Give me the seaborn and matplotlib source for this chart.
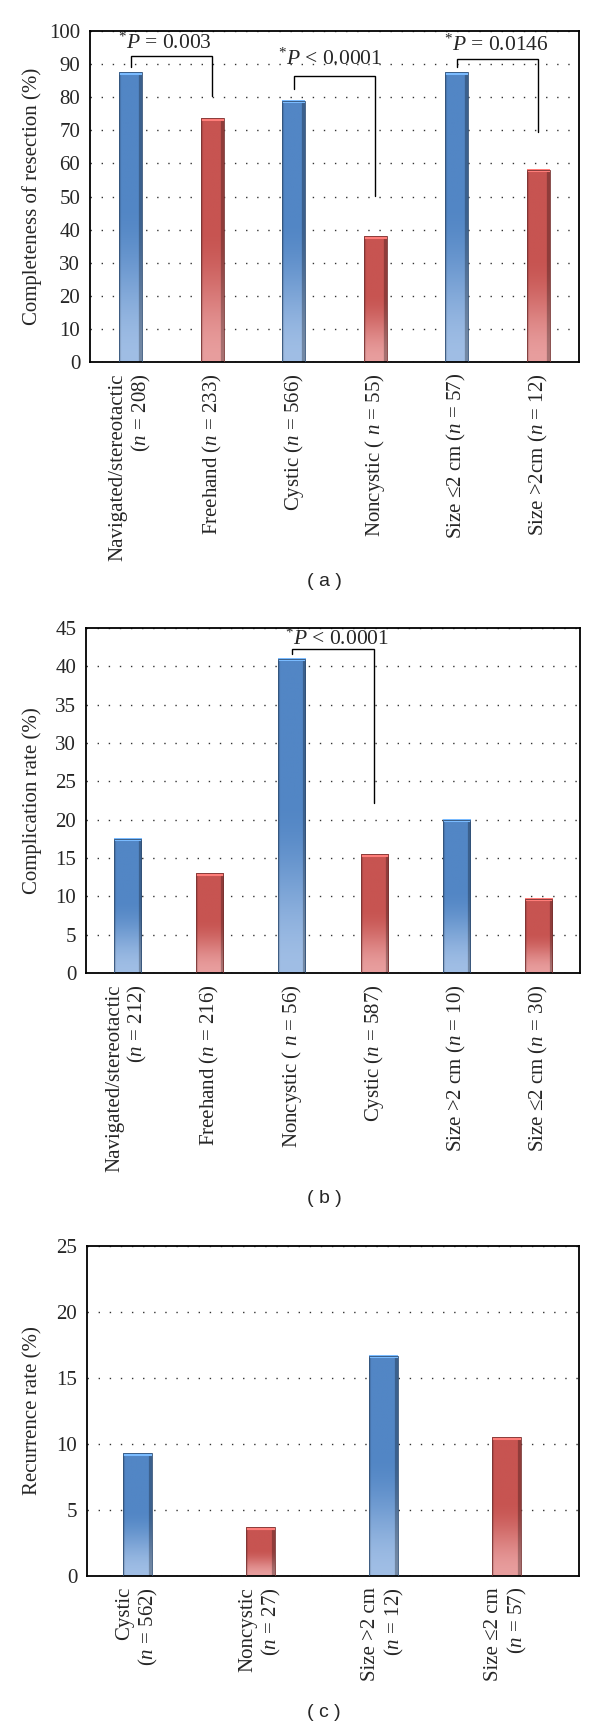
import numpy as np
import matplotlib
matplotlib.use("Agg")
import matplotlib.pyplot as plt
import seaborn as sns

# ---- data ----
a_labels = ["Navigated/stereotactic\n($n$ = 208)", "Freehand ($n$ = 233)", "Cystic ($n$ = 566)",
            "Noncystic ( $n$ = 55)", "Size \u22642 cm ($n$ = 57)", "Size >2cm ($n$ = 12)"]
a_values = [87.5, 73.6, 78.9, 38.0, 87.6, 58.1]

b_labels = ["Navigated/stereotactic\n($n$ = 212)", "Freehand ($n$ = 216)", "Noncystic ( $n$ = 56)",
            "Cystic ($n$ = 587)", "Size >2 cm ($n$ = 10)", "Size \u22642 cm ($n$ = 30)"]
b_values = [17.5, 13.0, 41.0, 15.5, 20.0, 9.7]

c_labels = ["Cystic\n($n$ = 562)", "Noncystic\n($n$ = 27)", "Size >2 cm\n($n$ = 12)", "Size \u22642 cm\n($n$ = 57)"]
c_values = [9.3, 3.7, 16.7, 10.5]

# significance brackets: (left bar, right bar, left leg start, bar top, right leg end, text)
a_brackets = [(0, 1, 89.0, 92.3, 80.4, r"$^{*}P$ = 0.003"),
              (2, 3, 82.4, 86.3, 50.3, r"$^{*}P$ < 0.0001"),
              (4, 5, 89.0, 91.5, 69.6, r"$^{*}P$ = 0.0146")]
a_text_pos = [(0.42, 96.3), (2.44, 91.5), (4.48, 95.8)]
b_brackets = [(2, 3, 41.6, 42.2, 22.2, r"$^{*}P$ < 0.0001")]
b_text_pos = [(2.55, 43.6)]

BLUE = np.array([82, 134, 197]) / 255
BLUE_LIGHT = np.array([160, 190, 229]) / 255
RED = np.array([199, 84, 81]) / 255
RED_LIGHT = np.array([232, 158, 158]) / 255

sns.set_style("white")
plt.rcParams["font.family"] = ["Liberation Serif", "DejaVu Serif"]
plt.rcParams["mathtext.fontset"] = "custom"
plt.rcParams["mathtext.rm"] = "Liberation Serif"
plt.rcParams["mathtext.it"] = "Liberation Serif:italic"
plt.rcParams["mathtext.bf"] = "Liberation Serif:bold"

W, H = 600, 1726
fig = plt.figure(figsize=(W / 100, H / 100), dpi=100)


def gradient_fill(ax, patch, base, light):
    x0, y0 = patch.get_x(), patch.get_y()
    w, h = patch.get_width(), patch.get_height()
    p0 = ax.transData.transform((x0, y0))
    p1 = ax.transData.transform((x0 + w, y0 + h))
    nrows = max(int(abs(p1[1] - p0[1])), 2)
    ncols = max(int(abs(p1[0] - p0[0])), 2)
    t = np.linspace(0, 1, nrows)
    s = np.clip(t / 0.55, 0, 1)
    s = s * s * (3 - 2 * s)
    col = light[None, :] + (base - light)[None, :] * s[:, None]
    img = np.repeat(col[:, None, :], ncols, axis=1)
    # bevel: darker right edge, slightly darker left edge, light top cap
    img[:, -3:, :] *= 0.72
    img[:, :2, :] *= 0.88
    img[-3:, :, :] = np.clip(base * 1.25 + 0.08, 0, 1)
    ax.imshow(img, extent=[x0, x0 + w, y0, y0 + h], origin="lower",
              aspect="auto", zorder=2, interpolation="bilinear", clip_path=patch)
    patch.set_facecolor("none")
    patch.set_edgecolor(base * 0.6)
    patch.set_linewidth(0.6)
    patch.set_zorder(3)


def draw_panel(rect_px, labels, values, ymax, ystep, ylabel, width, center_frac):
    left, top, right, bottom = rect_px
    ax = fig.add_axes([left / W, 1 - bottom / H, (right - left) / W, (bottom - top) / H])
    n = len(labels)
    colors = {lab: ("#5286C5" if i % 2 == 0 else "#C75451") for i, lab in enumerate(labels)}
    sns.barplot(x=labels, y=values, hue=labels, palette=colors, width=width,
                legend=False, ax=ax, saturation=1)
    ax.set_xlim(-center_frac, n - center_frac)
    ax.set_ylim(0, ymax)
    ax.set_yticks(np.arange(0, ymax + 0.1, ystep))
    ax.set_yticklabels([f"{v:g}" for v in np.arange(0, ymax + 0.1, ystep)], fontsize=15)
    ax.set_xticks(range(n))
    ax.set_xticklabels(labels, rotation=90, fontsize=15, ha="center", va="top",
                       multialignment="right", linespacing=1.15)
    ax.set_xticks(np.arange(n + 1) - center_frac, minor=True)
    ax.tick_params(axis="x", which="major", length=0, pad=8)
    ax.tick_params(axis="x", which="minor", length=4, width=1, direction="out", color="black")
    ax.tick_params(axis="y", length=4, width=1, direction="out", color="black", pad=3)
    ax.yaxis.grid(True, linestyle=(0, (1, 7)), color="#333333", linewidth=1.0)
    ax.xaxis.grid(False)
    ax.set_axisbelow(True)
    for sp in ax.spines.values():
        sp.set_visible(True)
        sp.set_color("black")
        sp.set_linewidth(1.3)
    ax.set_xlabel("")
    ax.set_ylabel(ylabel, fontsize=15)
    ax.yaxis.set_label_coords((42 - left) / (right - left), 0.5)
    for i, p in enumerate(ax.patches):
        if i % 2 == 0:
            gradient_fill(ax, p, BLUE, BLUE_LIGHT)
        else:
            gradient_fill(ax, p, RED, RED_LIGHT)
    ax.set_xlim(-center_frac, n - center_frac)
    ax.set_ylim(0, ymax)
    return ax


def add_brackets(ax, brackets, text_pos):
    for (i, j, y_start, y_top, y_end, txt), (tx, ty) in zip(brackets, text_pos):
        ax.plot([i, i, j, j], [y_start, y_top, y_top, y_end], color="black", lw=1.0,
                zorder=4, solid_joinstyle="miter")
        ax.text(tx, ty, txt, ha="center", va="center", fontsize=15.5, zorder=5)


ax_a = draw_panel((90, 31, 579, 362), a_labels, a_values, 100, 10,
                  "Completeness of resection (%)", 0.28, 0.5)
add_brackets(ax_a, a_brackets, a_text_pos)

ax_b = draw_panel((86, 628, 580, 973), b_labels, b_values, 45, 5,
                  "Complication rate (%)", 0.33, 0.5)
add_brackets(ax_b, b_brackets, b_text_pos)

ax_c = draw_panel((87, 1246, 579, 1576), c_labels, c_values, 25, 5,
                  "Recurrence rate (%)", 0.235, 0.41)

for lab, y in [("( a )", 582), ("( b )", 1198), ("( c )", 1712)]:
    fig.text(324 / W, 1 - y / H, lab, ha="center", va="center", fontsize=14,
             family=["Liberation Sans", "DejaVu Sans"])

fig.savefig("out.png", dpi=100)
